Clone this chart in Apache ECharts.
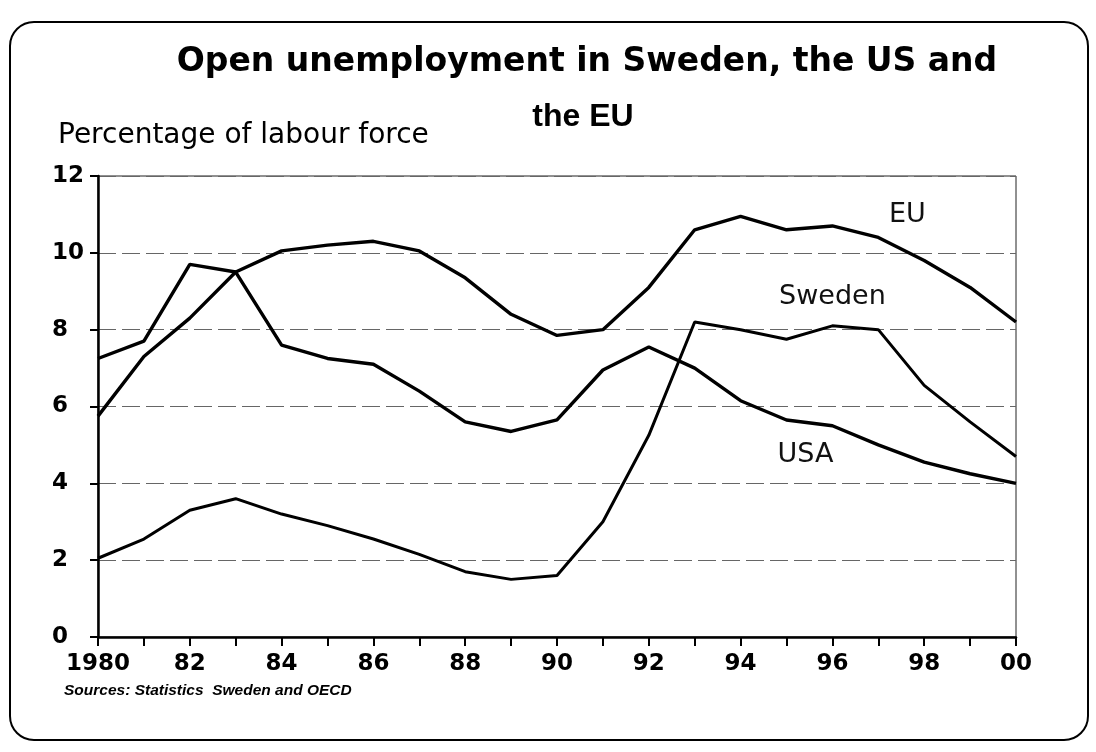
<!DOCTYPE html>
<html>
<head>
<meta charset="utf-8">
<script src="https://cdn.jsdelivr.net/npm/echarts@6/dist/echarts.min.js"></script>
<style>
html,body{margin:0;padding:0;background:#fff;}
#chart{width:1096px;height:752px;}
</style>
</head>
<body>
<div id="chart"></div>
<script>
// Data
var years = ['1980','81','82','83','84','85','86','87','88','89','90','91','92','93','94','95','96','97','98','99','00'];
var yTicks = [0, 2, 4, 6, 8, 10, 12];
var euValues = [5.75, 7.3, 8.3, 9.5, 10.05, 10.2, 10.3, 10.05, 9.35, 8.4, 7.85, 8.0, 9.1, 10.6, 10.95, 10.6, 10.7, 10.4, 9.8, 9.1, 8.2];
var usaValues = [7.25, 7.7, 9.7, 9.5, 7.6, 7.25, 7.1, 6.4, 5.6, 5.35, 5.65, 6.95, 7.55, 7.0, 6.15, 5.65, 5.5, 5.0, 4.55, 4.25, 4.0];
var swedenValues = [2.05, 2.55, 3.3, 3.6, 3.2, 2.9, 2.55, 2.15, 1.7, 1.5, 1.6, 3.0, 5.25, 8.2, 8.0, 7.75, 8.1, 8.0, 6.55, 5.6, 4.7];
var seriesNames = ['EU', 'Sweden', 'USA'];
var labelIndex = {EU: 17, Sweden: 16, USA: 15};
var titleLine1 = 'Open unemployment in Sweden, the US and';
var titleLine2 = 'the EU';
var yAxisTitle = 'Percentage of labour force';
var sourceText = 'Sources: Statistics  Sweden and OECD';

function withLabel(values, name, offset) {
  return values.map(function (v, i) {
    if (i === labelIndex[name]) {
      return {
        value: v,
        label: {
          show: true, position: 'inside', offset: offset,
          formatter: name, color: '#111',
          fontFamily: 'DejaVu Sans', fontSize: 27
        }
      };
    }
    return v;
  });
}

function makeSeries(name, values, offset, width) {
  return {
    name: name, type: 'line', data: withLabel(values, name, offset),
    symbol: 'circle', symbolSize: 0.01, showSymbol: true, showAllSymbol: true,
    lineStyle: {color: '#000', width: width}, itemStyle: {color: '#000'},
    label: {show: false}, emphasis: {disabled: true}
  };
}

var chart = echarts.init(document.getElementById('chart'), null, {renderer: 'canvas'});
var option = {
  backgroundColor: '#fff',
  animation: false,
  grid: {left: 98, right: 80, top: 176, bottom: 115, show: true, borderColor: '#222', borderWidth: 1, backgroundColor: 'transparent'},
  graphic: [
    {type: 'rect', shape: {x: 10, y: 22, width: 1078, height: 718, r: 24}, style: {fill: 'none', stroke: '#000', lineWidth: 2}, z: -1},
    {type: 'text', x: 587, y: 62, style: {text: titleLine1, font: 'bold 33px "DejaVu Sans"', fill: '#000', textAlign: 'center', textVerticalAlign: 'middle'}},
    {type: 'text', x: 583, y: 117, style: {text: titleLine2, font: 'bold 32px "Liberation Sans"', fill: '#000', textAlign: 'center', textVerticalAlign: 'middle'}},
    {type: 'text', x: 58, y: 136, style: {text: yAxisTitle, font: '28px "DejaVu Sans"', fill: '#000', textVerticalAlign: 'middle'}},
    {type: 'text', x: 64, y: 691, style: {text: sourceText, font: 'italic bold 15.5px "Liberation Sans"', fill: '#000', textVerticalAlign: 'middle'}}
  ],
  xAxis: {
    type: 'category', data: years, boundaryGap: false,
    axisLine: {lineStyle: {color: '#000', width: 2.5}},
    axisTick: {show: true, interval: 0, length: 9, lineStyle: {color: '#000', width: 2}},
    axisLabel: {interval: 1, margin: 16, color: '#000', fontFamily: 'DejaVu Sans', fontWeight: 'bold', fontSize: 23},
    splitLine: {show: false}
  },
  yAxis: {
    type: 'value', min: 0, max: 12, interval: 2,
    axisLine: {show: true, lineStyle: {color: '#000', width: 2.5}},
    axisTick: {show: true, length: 8, lineStyle: {color: '#000', width: 2}},
    axisLabel: {margin: 46, align: 'left', color: '#000', fontFamily: 'DejaVu Sans', fontWeight: 'bold', fontSize: 23,
      formatter: function (v) { return yTicks.indexOf(v) >= 0 ? String(v) : ''; }},
    splitLine: {show: true, lineStyle: {color: '#666', width: 1, type: [18, 6]}}
  },
  series: [
    makeSeries(seriesNames[0], euValues, [29, -22], 3.4),
    makeSeries(seriesNames[1], swedenValues, [0, -29], 3),
    makeSeries(seriesNames[2], usaValues, [19, 35], 3.4)
  ]
};
chart.setOption(option);
</script>
</body>
</html>
